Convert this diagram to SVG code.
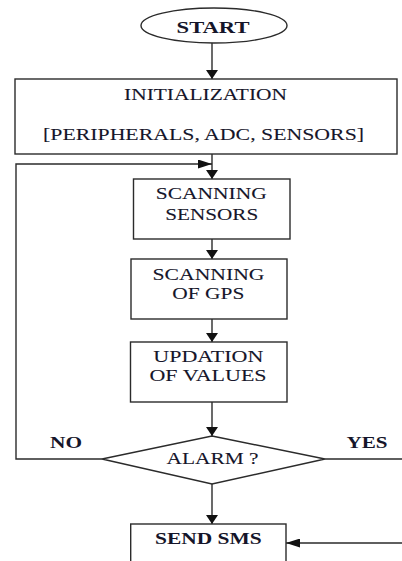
<svg xmlns="http://www.w3.org/2000/svg" width="402" height="561" viewBox="0 0 402 561">
  <style>
    .shape { fill: #ffffff; stroke: #2b2b2b; stroke-width: 1.4; }
    .wire { fill: none; stroke: #2b2b2b; stroke-width: 1.4; }
    .lbl { font-family: "Liberation Serif", "Times New Roman", serif; font-size: 16.5px; fill: #15152a; stroke: #15152a; stroke-width: 0.08; text-anchor: middle; }
    .b { font-weight: bold; stroke-width: 0; }
  </style>
  <defs>
    <marker id="ah-v" viewBox="0 -6 9 12" refX="9" refY="0" markerWidth="9" markerHeight="12" markerUnits="userSpaceOnUse" orient="auto">
      <path d="M0,-6 L9,0 L0,6 z" fill="#111"/>
    </marker>
    <marker id="ah-h" viewBox="0 -4.5 14 9" refX="14" refY="0" markerWidth="14" markerHeight="9" markerUnits="userSpaceOnUse" orient="auto">
      <path d="M0,-4.5 L14,0 L0,4.5 z" fill="#111"/>
    </marker>
  </defs>

  <rect width="402" height="561" fill="#ffffff"/>

  <!-- connectors; labels use a wide (1.35x) horizontal type stretch -->
  <g id="connectors">
    <path class="wire" d="M212,43 V79" marker-end="url(#ah-v)"/>
    <path class="wire" d="M212,154 V179" marker-end="url(#ah-v)"/>
    <path class="wire" d="M102,459 H16 V164 H212" marker-end="url(#ah-h)"/>
    <path class="wire" d="M212,239 V259" marker-end="url(#ah-v)"/>
    <path class="wire" d="M212,319 V342" marker-end="url(#ah-v)"/>
    <path class="wire" d="M212,402 V436" marker-end="url(#ah-v)"/>
    <path class="wire" d="M212,484 V524" marker-end="url(#ah-v)"/>
    <path class="wire" d="M325,459 H412 V543 H286" marker-end="url(#ah-h)"/>
    <text class="lbl b" transform="translate(66,448) scale(1.35,1)" textLength="23.7" lengthAdjust="spacingAndGlyphs">NO</text>
    <text class="lbl b" transform="translate(367,448) scale(1.35,1)" textLength="30.4" lengthAdjust="spacingAndGlyphs">YES</text>
  </g>

  <g id="start">
    <ellipse class="shape" cx="214" cy="25.5" rx="73" ry="17.5"/>
    <text class="lbl b" transform="translate(213,33) scale(1.35,1)" textLength="54" lengthAdjust="spacingAndGlyphs">START</text>
  </g>

  <g id="init">
    <rect class="shape" x="15" y="79" width="382" height="75"/>
    <text class="lbl" transform="translate(205.5,100) scale(1.35,1)" textLength="120.7" lengthAdjust="spacingAndGlyphs">INITIALIZATION</text>
    <text class="lbl" transform="translate(203.5,139.5) scale(1.35,1)" textLength="237.8" lengthAdjust="spacingAndGlyphs">[PERIPHERALS, ADC, SENSORS]</text>
  </g>

  <g id="scan-sensors">
    <rect class="shape" x="133.5" y="179" width="156.5" height="60"/>
    <text class="lbl" transform="translate(211.3,199) scale(1.35,1)" textLength="82.2" lengthAdjust="spacingAndGlyphs">SCANNING</text>
    <text class="lbl" transform="translate(211.7,219.5) scale(1.35,1)" textLength="68.9" lengthAdjust="spacingAndGlyphs">SENSORS</text>
  </g>

  <g id="scan-gps">
    <rect class="shape" x="131" y="259" width="156" height="60"/>
    <text class="lbl" transform="translate(208.5,280) scale(1.35,1)" textLength="83" lengthAdjust="spacingAndGlyphs">SCANNING</text>
    <text class="lbl" transform="translate(208.3,299.3) scale(1.35,1)" textLength="53.3" lengthAdjust="spacingAndGlyphs">OF GPS</text>
  </g>

  <g id="update">
    <rect class="shape" x="130.5" y="342" width="156.5" height="60"/>
    <text class="lbl" transform="translate(208.3,361.7) scale(1.35,1)" textLength="81.5" lengthAdjust="spacingAndGlyphs">UPDATION</text>
    <text class="lbl" transform="translate(208,381.3) scale(1.35,1)" textLength="86.7" lengthAdjust="spacingAndGlyphs">OF VALUES</text>
  </g>

  <g id="alarm">
    <polygon class="shape" points="212,436 325,459 212,484 102,459"/>
    <text class="lbl" transform="translate(212.5,464) scale(1.35,1)" textLength="68.1" lengthAdjust="spacingAndGlyphs">ALARM ?</text>
  </g>

  <g id="send-sms">
    <rect class="shape" x="130.7" y="524" width="155.3" height="45"/>
    <text class="lbl b" transform="translate(208.3,544) scale(1.35,1)" textLength="79" lengthAdjust="spacingAndGlyphs">SEND SMS</text>
  </g>
</svg>
